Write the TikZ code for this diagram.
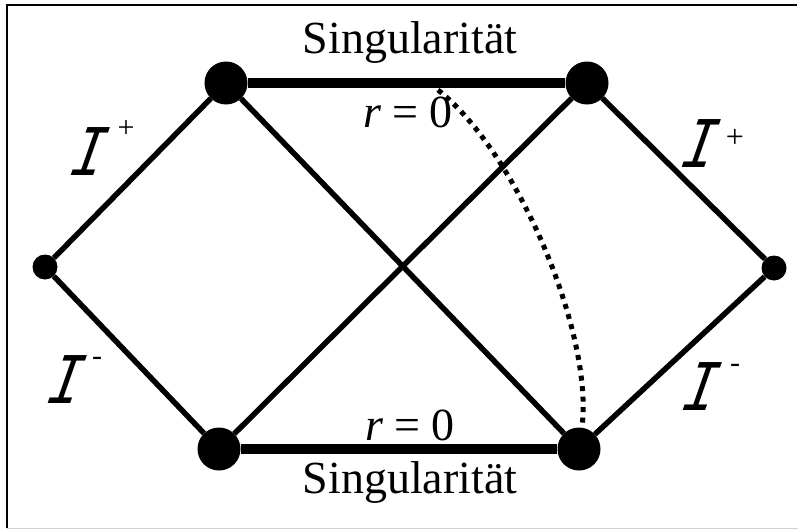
\documentclass[tikz,border=0pt]{standalone}
\usepackage{fontspec}
\setmainfont{Liberation Serif}
\newfontfamily\scrifont{Liberation Mono}
\usetikzlibrary{positioning}
\tikzset{
    bigdot/.style={
        circle,
        fill,
        inner sep=0pt,
        minimum size=43pt
    },
    smalldot/.style={
        circle,
        fill,
        inner sep=0pt,
        minimum size=25pt
    },
    nullline/.style={line width=5.5pt},
    singline/.style={line width=10pt},
    rline/.style={line width=5pt, dash pattern=on 5pt off 5.5pt},
    txt/.style={font=\fontsize{46}{50}\selectfont, inner sep=0pt, anchor=base},
    scri/.style={font=\scrifont\itshape\fontsize{56}{60}\selectfont, inner sep=0pt, anchor=base,
        xslant=0.2, yscale=1.3, transform shape},
    sgn/.style={font=\fontsize{30}{32}\selectfont, inner sep=0pt, anchor=base}
}

\begin{document}
\begin{tikzpicture}[x=1pt, y=-1pt]
        \useasboundingbox (0,0) rectangle (798,530);
        \draw[line width=1.5pt] (7,528) -- (7,5) -- (797,5);
        \draw[line width=1.5pt, gray!35] (7,528.5) -- (798,528.5);

        % corners of the diagram
        \node[smalldot] (lft) at (45,267) {};
        \node[smalldot] (rgt) at (774,268) {};
        \node[bigdot] (tl) at (226,83) {};
        \node[bigdot] (tr) at (587,83) {};
        \node[bigdot] (bl) at (219,449) {};
        \node[bigdot] (br) at (579,449) {};

        \draw[nullline] (lft) -- (tl);
        \draw[nullline] (lft) -- (bl);
        \draw[nullline] (tl) -- (br);
        \draw[nullline] (bl) -- (tr);
        \draw[nullline] (tr) -- (rgt);
        \draw[nullline] (br) -- (rgt);
        \draw[singline] (tl) -- (tr);
        \draw[singline] (bl) -- (br);

        % labels
        \node[txt] (singtop) at (410,53) {Singularität};
        \node[txt] (singbot) at (410,493) {Singularität};
        \node[txt] (rtop) at (408,127) {\itshape r\upshape{} = 0};
        \node[txt] (rbot) at (410,440) {\itshape r\upshape{} = 0};

        \node[scri] (ilt) at (85,175) {I};
        \node[sgn] (plt) at (126,137) {+};
        \node[scri] (irt) at (696,167) {I};
        \node[sgn, font=\fontsize{32}{34}\selectfont] (prt) at (735,147) {+};
        \node[scri] (ilb) at (62,403) {I};
        \node[sgn] (mlb) at (97,365) {-};
        \node[scri] (irb) at (697,410) {I};
        \node[sgn] (mrb) at (735,372) {-};

        % r = 0 line
        \coordinate (rzero) at (438,90);
        \draw[rline] (rzero) .. controls (519,154) and (594,337) .. (br);
    \end{tikzpicture}
\end{document}
